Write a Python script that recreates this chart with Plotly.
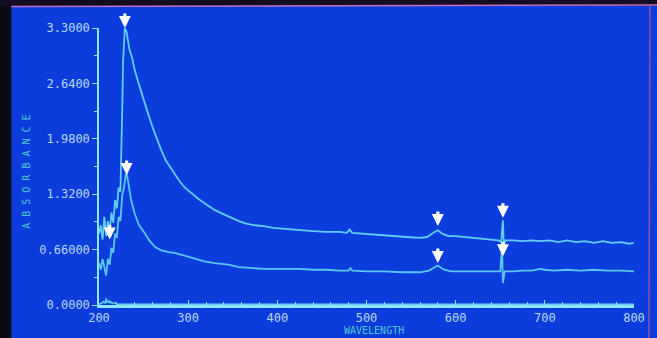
import plotly.graph_objects as go

# ---- data ----
upper_nm = [200, 202, 204, 206, 208, 210, 212, 214, 216, 218, 220, 222, 224, 225, 226, 227, 228, 229,
            231, 234, 237, 240, 245, 250, 255, 260, 265, 270, 275, 280, 285, 290, 296, 305, 312, 320,
            330, 340, 350, 357, 365, 375, 385, 395, 405, 415, 425, 440, 455, 470, 478, 481, 484, 495,
            505, 515, 530, 545, 560, 568, 575, 580, 585, 592, 600, 610, 620, 630, 640, 648, 651, 653,
            654, 656, 665, 675, 685, 695, 705, 715, 725, 735, 745, 755, 765, 775, 785, 795, 800]
upper_abs = [0.85, 0.95, 0.78, 1.05, 0.82, 1.00, 0.88, 1.10, 0.98, 1.25, 1.15, 1.40, 1.35, 1.70, 2.30, 2.90, 3.20, 3.30,
             3.25, 3.05, 2.95, 2.80, 2.62, 2.44, 2.28, 2.12, 1.97, 1.84, 1.72, 1.64, 1.55, 1.48, 1.40, 1.32, 1.26, 1.20,
             1.13, 1.08, 1.03, 1.00, 0.97, 0.95, 0.94, 0.92, 0.91, 0.90, 0.89, 0.88, 0.87, 0.87, 0.86, 0.90, 0.86, 0.85,
             0.84, 0.83, 0.82, 0.81, 0.80, 0.81, 0.86, 0.89, 0.85, 0.82, 0.82, 0.81, 0.80, 0.79, 0.78, 0.77, 0.75, 1.01,
             0.72, 0.77, 0.77, 0.76, 0.77, 0.76, 0.77, 0.75, 0.77, 0.75, 0.76, 0.74, 0.76, 0.74, 0.75, 0.73, 0.74]

lower_nm = [200, 202, 204, 206, 208, 210, 212, 214, 216, 218, 220, 222, 224, 226, 228, 230, 231, 233, 236,
            240, 245, 251, 257, 263, 270, 278, 285, 295, 305, 318, 330, 345, 357, 370, 385, 400, 425, 440,
            455, 470, 480, 482, 484, 500, 520, 540, 560, 570, 580, 587, 595, 610, 625, 640, 650, 652, 653,
            655, 665, 675, 685, 695, 700, 710, 725, 740, 755, 770, 785, 800]
lower_abs = [0.50, 0.42, 0.55, 0.45, 0.35, 0.55, 0.48, 0.68, 0.62, 0.85, 0.80, 1.05, 1.00, 1.30, 1.40, 1.55, 1.57, 1.45, 1.25,
             1.09, 0.95, 0.86, 0.76, 0.69, 0.65, 0.63, 0.62, 0.59, 0.56, 0.52, 0.50, 0.48, 0.45, 0.44, 0.43, 0.43, 0.43, 0.42,
             0.42, 0.41, 0.41, 0.44, 0.41, 0.40, 0.40, 0.39, 0.39, 0.41, 0.47, 0.42, 0.40, 0.40, 0.40, 0.40, 0.40, 0.71, 0.26,
             0.40, 0.40, 0.41, 0.41, 0.43, 0.42, 0.41, 0.42, 0.41, 0.42, 0.41, 0.41, 0.40]

base_nm = [200, 203, 205, 207, 208, 209, 211, 212, 213, 215, 217, 220, 800]
base_abs = [0.01, 0.02, 0.04, 0.02, 0.08, 0.03, 0.05, 0.02, 0.04, 0.02, 0.03, 0.01, 0.01]

# arrow markers: (wavelength, absorbance at arrow tip)
arrow_nm = [229, 231, 212, 580, 580, 653, 653]
arrow_abs = [3.30, 1.55, 0.78, 0.94, 0.50, 1.04, 0.58]

y_ticks = [0.0, 0.66, 1.32, 1.98, 2.64, 3.30]
y_tick_text = ["0.0000", "0.66000", "1.3200", "1.9800", "2.6400", "3.3000"]
x_ticks = [200, 300, 400, 500, 600, 700, 800]

BG = "#0c3ddc"
LINE = "#62cdf0"
AX = "#8ee8f4"
TXT = "#b8d8ea"

fig = go.Figure()
fig.add_trace(go.Scatter(x=base_nm, y=base_abs, mode="lines", line=dict(color=LINE, width=1.5),
                         hoverinfo="skip", showlegend=False))
fig.add_trace(go.Scatter(x=upper_nm, y=upper_abs, mode="lines", line=dict(color=LINE, width=1.8),
                         showlegend=False))
fig.add_trace(go.Scatter(x=lower_nm, y=lower_abs, mode="lines", line=dict(color="#5ac6ec", width=1.8),
                         showlegend=False))

for xn, ya in zip(arrow_nm, arrow_abs):
    fig.add_annotation(x=xn, y=ya, xref="x", yref="y", text="", showarrow=True,
                       ax=0, ay=-16, arrowhead=2, arrowsize=0.75, arrowwidth=3.2,
                       arrowcolor="white", standoff=0)

# pixel -> paper helpers
L, R, T, B = 99, 636, 28, 305
def px(p):
    return (p - L) / (R - L)
def py(q):
    return (B - q) / (B - T)

shapes = [
    dict(type="rect", xref="paper", yref="paper", x0=px(-5), x1=px(11), y0=py(345), y1=py(-5),
         fillcolor="#0a0a14", line=dict(width=0), layer="above"),
    dict(type="rect", xref="paper", yref="paper", x0=px(-5), x1=px(662), y0=py(6), y1=py(-5),
         fillcolor="#140c20", line=dict(width=0), layer="above"),
    dict(type="line", xref="paper", yref="paper", x0=px(11), x1=px(662), y0=py(6.5), y1=py(5),
         line=dict(color="#c070c0", width=1.5), layer="above"),
    dict(type="line", xref="paper", yref="paper", x0=px(652), x1=px(651), y0=py(6), y1=py(345),
         line=dict(color="#9050a0", width=1.5), layer="above"),
]

fig.add_annotation(xref="paper", yref="paper", x=px(18), y=py(172), text="A B S O R B A N C E",
                   textangle=-90, showarrow=False, font=dict(family="DejaVu Sans Mono", size=10, color="#4cc8cc"))
fig.add_annotation(xref="paper", yref="paper", x=px(375), y=py(330), xanchor="center", yanchor="middle",
                   text="WAVELENGTH", showarrow=False,
                   font=dict(family="DejaVu Sans Mono", size=10, color="#4cc8cc"))

fig.update_layout(
    width=657, height=338,
    margin=dict(l=L, r=657 - R, t=T, b=338 - B),
    paper_bgcolor=BG, plot_bgcolor=BG,
    shapes=shapes,
    font=dict(family="DejaVu Sans Mono", size=12, color=TXT),
    xaxis=dict(range=[200, 800], tickvals=x_ticks, ticks="inside", ticklen=5, tickcolor=AX,
               showline=True, linecolor=AX, linewidth=2.5, showgrid=False, zeroline=False,
               minor=dict(dtick=20, ticks="inside", ticklen=3, tickcolor=AX),
               tickfont=dict(size=12, color=TXT)),
    yaxis=dict(range=[0, 3.3], tickvals=y_ticks, ticktext=y_tick_text, ticks="outside", ticklen=5,
               tickcolor=AX, showline=True, linecolor=AX, linewidth=1.5, showgrid=False, zeroline=False,
               minor=dict(dtick=0.33, ticks="outside", ticklen=3, tickcolor=AX),
               tickfont=dict(size=12, color=TXT)),
)

fig.write_html("out.html", config={"displayModeBar": False},
               post_script="document.body.style.margin='0';document.body.style.overflow='hidden';")
